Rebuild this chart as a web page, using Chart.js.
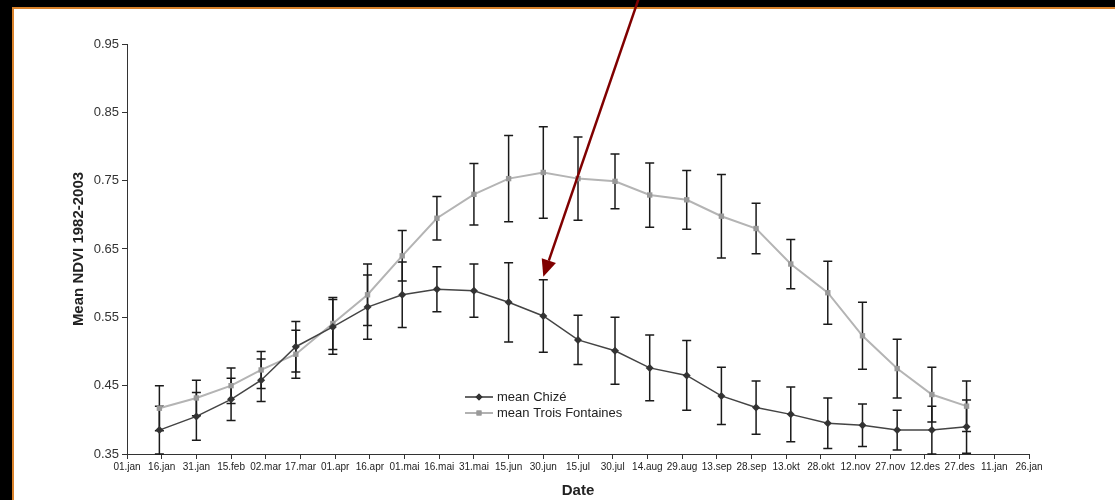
<!DOCTYPE html>
<html lang="fr">
<head>
    <meta charset="UTF-8">
    <title>Mean NDVI 1982-2003</title>
    <script src="https://cdn.jsdelivr.net/npm/chart.js"></script>
    <style>
        html, body {
            margin: 0;
            padding: 0;
            background: #000;
            width: 1115px;
            height: 500px;
            overflow: hidden;
        }
        .panel {
            position: absolute;
            left: 12px;
            top: 7px;
            right: 0;
            bottom: 0;
            background: #fff;
            border-top: 2px solid #d9822b;
            border-left: 2px solid #d9822b;
        }
        canvas {
            position: absolute;
            left: 0;
            top: 0;
        }
    </style>
</head>
<body>
    <div class="panel"></div>
    <canvas id="ndvi-chart" width="1115" height="500"></canvas>

    <script>
        // tick labels every 15 days along the x axis
        const tickLabels = ['01.jan', '16.jan', '31.jan', '15.feb', '02.mar', '17.mar', '01.apr', '16.apr',
            '01.mai', '16.mai', '31.mai', '15.jun', '30.jun', '15.jul', '30.jul', '14.aug', '29.aug',
            '13.sep', '28.sep', '13.okt', '28.okt', '12.nov', '27.nov', '12.des', '27.des', '11.jan', '26.jan'];
        const yTicks = [0.35, 0.45, 0.55, 0.65, 0.75, 0.85, 0.95];

        // day of year (from 01.jan) of each semi-monthly composite
        const days = [14, 30, 45, 58, 73, 89, 104, 119, 134, 150, 165, 180,
            195, 211, 226, 242, 257, 272, 287, 303, 318, 333, 348, 363];

        const chizeMean = [0.385, 0.405, 0.430, 0.458, 0.507, 0.536, 0.565, 0.583, 0.591, 0.589, 0.572, 0.552,
            0.517, 0.501, 0.476, 0.465, 0.435, 0.418, 0.408, 0.395, 0.392, 0.385, 0.385, 0.390];
        const chizeErr = [0.035, 0.035, 0.031, 0.031, 0.037, 0.040, 0.047, 0.048, 0.033, 0.039, 0.058, 0.053,
            0.036, 0.049, 0.048, 0.051, 0.042, 0.039, 0.040, 0.037, 0.031, 0.029, 0.035, 0.039];

        const tfMean = [0.417, 0.432, 0.450, 0.473, 0.496, 0.541, 0.583, 0.640, 0.695, 0.730, 0.753, 0.762,
            0.753, 0.749, 0.729, 0.722, 0.698, 0.680, 0.628, 0.586, 0.523, 0.475, 0.437, 0.420];
        const tfErr = [0.033, 0.026, 0.026, 0.027, 0.035, 0.038, 0.045, 0.037, 0.032, 0.045, 0.063, 0.067,
            0.061, 0.040, 0.047, 0.043, 0.061, 0.037, 0.036, 0.046, 0.049, 0.043, 0.040, 0.037];

        const errors = [chizeErr, tfErr];

        // vertical error bars, drawn under the markers
        const errorBars = {
            id: 'errorBars',
            beforeDatasetsDraw(chart) {
                const ctx = chart.ctx;
                const y = chart.scales.y;
                const area = chart.chartArea;
                ctx.save();
                ctx.strokeStyle = '#1a1a1a';
                ctx.lineWidth = 1.5;
                chart.data.datasets.forEach((ds, i) => {
                    const meta = chart.getDatasetMeta(i);
                    meta.data.forEach((pt, j) => {
                        const v = ds.data[j].y;
                        const e = errors[i][j];
                        const top = Math.max(y.getPixelForValue(v + e), area.top);
                        const bot = Math.min(y.getPixelForValue(v - e), area.bottom);
                        ctx.beginPath();
                        ctx.moveTo(pt.x, top);
                        ctx.lineTo(pt.x, bot);
                        ctx.moveTo(pt.x - 4.5, top);
                        ctx.lineTo(pt.x + 4.5, top);
                        ctx.moveTo(pt.x - 4.5, bot);
                        ctx.lineTo(pt.x + 4.5, bot);
                        ctx.stroke();
                    });
                });
                ctx.restore();
            }
        };

        // legend inside the plot + the red arrow
        const extras = {
            id: 'extras',
            afterDraw(chart) {
                const ctx = chart.ctx;
                ctx.save();

                const rows = [
                    { text: 'mean Chizé', color: '#333', style: 'rectRot', y: 397 },
                    { text: 'mean Trois Fontaines', color: '#999', style: 'rect', y: 413 }
                ];
                rows.forEach(r => {
                    ctx.strokeStyle = r.color;
                    ctx.lineWidth = 1.5;
                    ctx.beginPath();
                    ctx.moveTo(465, r.y);
                    ctx.lineTo(493, r.y);
                    ctx.stroke();
                    ctx.fillStyle = r.color;
                    Chart.helpers.drawPoint(ctx, { pointStyle: r.style, radius: 3.5, rotation: 0, borderWidth: 0 }, 479, r.y);
                    ctx.fill();
                    ctx.fillStyle = '#222';
                    ctx.font = '13px "Liberation Sans", Arial, sans-serif';
                    ctx.textBaseline = 'middle';
                    ctx.fillText(r.text, 497, r.y);
                });

                // arrow pointing at the 30.jun Chizé error bar
                const x = chart.scales.x;
                const y = chart.scales.y;
                const tipX = x.getPixelForValue(days[11]);
                const tipY = y.getPixelForValue(chizeMean[11] + chizeErr[11]) - 3;
                const tailX = tipX + 96, tailY = tipY - 280;
                const ang = Math.atan2(tipY - tailY, tipX - tailX);
                const headLen = 17, headW = 7.5;
                const baseX = tipX - headLen * Math.cos(ang), baseY = tipY - headLen * Math.sin(ang);

                ctx.strokeStyle = '#800000';
                ctx.fillStyle = '#800000';
                ctx.lineWidth = 2.5;
                ctx.beginPath();
                ctx.moveTo(tailX, tailY);
                ctx.lineTo(baseX, baseY);
                ctx.stroke();
                ctx.beginPath();
                ctx.moveTo(tipX, tipY);
                ctx.lineTo(baseX + headW * Math.sin(ang), baseY - headW * Math.cos(ang));
                ctx.lineTo(baseX - headW * Math.sin(ang), baseY + headW * Math.cos(ang));
                ctx.closePath();
                ctx.fill();

                ctx.restore();
            }
        };

        const ctx = document.getElementById('ndvi-chart').getContext('2d');

        new Chart(ctx, {
            type: 'line',
            data: {
                datasets: [{
                    label: 'mean Chizé',
                    data: days.map((d, i) => ({ x: d, y: chizeMean[i] })),
                    borderColor: '#444',
                    borderWidth: 1.5,
                    pointStyle: 'rectRot',
                    pointRadius: 4,
                    pointBackgroundColor: '#333',
                    pointBorderWidth: 0,
                    tension: 0
                }, {
                    label: 'mean Trois Fontaines',
                    data: days.map((d, i) => ({ x: d, y: tfMean[i] })),
                    borderColor: '#b4b4b4',
                    borderWidth: 2,
                    pointStyle: 'rect',
                    pointRadius: 3.8,
                    pointBackgroundColor: '#999',
                    pointBorderWidth: 0,
                    tension: 0
                }]
            },
            options: {
                responsive: false,
                animation: false,
                devicePixelRatio: 1,
                layout: { padding: { left: 70, right: 86, top: 44, bottom: 0 } },
                plugins: {
                    legend: { display: false },
                    tooltip: { enabled: false }
                },
                scales: {
                    x: {
                        type: 'linear',
                        min: 0,
                        max: 390,
                        afterBuildTicks: s => { s.ticks = tickLabels.map((t, i) => ({ value: i * 15 })); },
                        afterFit: s => { s.height = 46; },
                        grid: { drawOnChartArea: false, tickLength: 5, color: '#333' },
                        border: { color: '#333', width: 1 },
                        ticks: {
                            autoSkip: false,
                            maxRotation: 0,
                            padding: 2,
                            color: '#222',
                            font: { family: '"Liberation Sans", Arial', size: 10 },
                            callback: (v, i) => tickLabels[i]
                        },
                        title: {
                            display: true,
                            text: 'Date',
                            color: '#222',
                            padding: { top: 0, bottom: 0 },
                            font: { family: '"Liberation Sans", Arial', size: 15, weight: 'bold' }
                        }
                    },
                    y: {
                        min: 0.35,
                        max: 0.95,
                        afterBuildTicks: s => { s.ticks = yTicks.map(v => ({ value: v })); },
                        afterFit: s => { s.width = 57; },
                        grid: { drawOnChartArea: false, tickLength: 5, color: '#333' },
                        border: { color: '#333', width: 1 },
                        ticks: {
                            padding: 3,
                            color: '#333',
                            font: { family: '"Liberation Sans", Arial', size: 13 },
                            callback: v => v.toFixed(2)
                        },
                        title: {
                            display: true,
                            text: 'Mean NDVI 1982-2003',
                            color: '#222',
                            padding: { top: 0, bottom: 0 },
                            font: { family: '"Liberation Sans", Arial', size: 15, weight: 'bold' }
                        }
                    }
                }
            },
            plugins: [errorBars, extras]
        });
    </script>
</body>
</html>
